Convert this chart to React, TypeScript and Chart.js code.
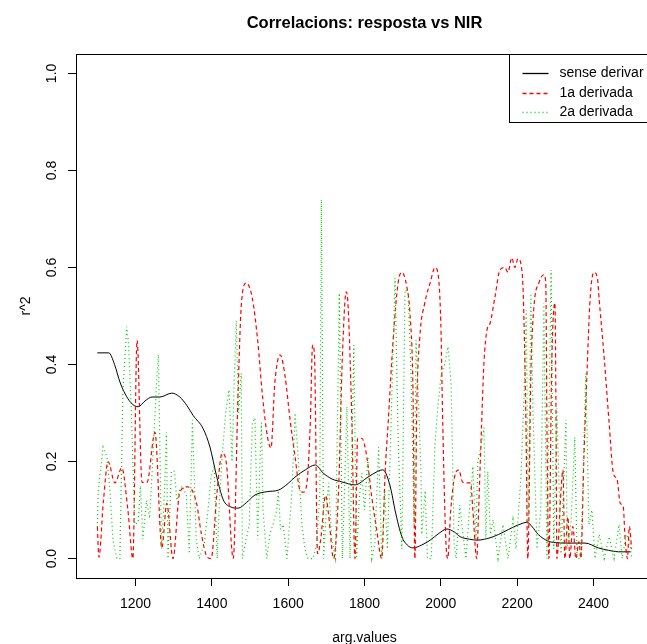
import React, { useEffect, useRef } from 'react';
import { Chart, registerables } from 'chart.js';

Chart.register(...registerables);

const TITLE = 'Correlacions: resposta vs NIR';
const X_LABEL = 'arg.values';
const Y_LABEL = 'r^2';
const SERIES_NAMES = ['sense derivar', '1a derivada', '2a derivada'];
const SERIES_COLORS = ['#000000', '#FF0000', '#00CD00'];
const SERIES_DASH = [[], [4, 3], [1, 3]];
const X_TICKS = [1200, 1400, 1600, 1800, 2000, 2200, 2400];
const Y_TICKS = [0, 0.2, 0.4, 0.6, 0.8, 1.0];
const Y_TICK_LABELS = ['0.0', '0.2', '0.4', '0.6', '0.8', '1.0'];

// sense derivar
const blackWl = [1100,1130,1145,1160,1186,1207,1225,1243,1264,1295,1316,1335,1351,1377,1395,1413,1430,1448,1469,1490,1513,1545,1574,1600,1618,1645,1671,1692,1715,1741,1775,1809,1835,1848,1858,1870,1880,1898,1912,1927,1950,1972,1995,2016,2035,2051,2075,2095,2115,2137,2165,2190,2215,2226,2240,2255,2281,2300,2326,2378,2413,2440,2465,2497];
const blackR2 = [0.424,0.424,0.40,0.362,0.323,0.313,0.325,0.333,0.333,0.341,0.333,0.315,0.295,0.268,0.23,0.168,0.121,0.107,0.104,0.115,0.131,0.138,0.141,0.155,0.168,0.183,0.193,0.176,0.164,0.158,0.152,0.168,0.18,0.183,0.172,0.14,0.1,0.045,0.028,0.022,0.028,0.038,0.052,0.061,0.055,0.045,0.04,0.038,0.04,0.045,0.055,0.065,0.073,0.075,0.065,0.05,0.036,0.033,0.032,0.032,0.022,0.017,0.014,0.014];

// 1a derivada
const redWl = [1100,1104,1116,1128,1146,1164,1180,1193,1204,1217,1230,1251,1269,1282,1298,1316,1337,1360,1372,1388,1398,1414,1427,1438,1456,1469,1477,1490,1506,1520,1533,1546,1555,1565,1579,1592,1605,1618,1631,1640,1650,1658,1664,1669,1677,1685,1698,1706,1719,1732,1742,1752,1757,1767,1775,1782,1793,1806,1819,1832,1845,1854,1862,1875,1888,1898,1911,1919,1927,1932,1937,1945,1958,1972,1985,1992,2000,2005,2013,2018,2026,2036,2047,2057,2068,2078,2084,2094,2099,2107,2113,2121,2129,2142,2155,2168,2176,2186,2194,2202,2213,2217,2223,2228,2236,2244,2257,2270,2275,2278,2283,2291,2299,2302,2304,2315,2320,2325,2333,2338,2346,2354,2362,2367,2375,2383,2391,2401,2410,2415,2428,2441,2452,2462,2470,2478,2483,2489,2494,2500];
const redR2 = [0.065,0.003,0.12,0.2,0.156,0.187,0.1,0.0,0.45,0.157,0.157,0.26,0.022,0.114,0.0,0.137,0.148,0.114,0.053,0.003,0.0,0.141,0.217,0.197,0.0,0.35,0.52,0.568,0.537,0.45,0.333,0.25,0.228,0.362,0.42,0.375,0.286,0.21,0.141,0.137,0.162,0.28,0.44,0.418,0.01,0.038,0.13,0.09,0.0,0.141,0.415,0.55,0.52,0.28,0.0,0.248,0.248,0.21,0.127,0.059,0.0,0.176,0.28,0.45,0.568,0.59,0.56,0.506,0.348,0.0,0.313,0.457,0.527,0.568,0.6,0.59,0.485,0.28,0.04,0.0,0.1,0.168,0.183,0.158,0.156,0.156,0.1,0.0,0.1,0.28,0.403,0.471,0.485,0.54,0.595,0.6,0.59,0.62,0.6,0.618,0.59,0.519,0.28,0.0,0.382,0.519,0.568,0.585,0.568,0.28,0.0,0.415,0.527,0.28,0.0,0.141,0.183,0.0,0.086,0.0,0.066,0.0,0.035,0.0,0.21,0.382,0.533,0.59,0.58,0.533,0.415,0.28,0.176,0.163,0.114,0.107,0.04,0.0,0.066,0.02];

// 2a derivada
const greenWl = [1100,1102,1115,1125,1133,1141,1151,1159,1167,1177,1182,1190,1198,1207,1213,1219,1229,1237,1245,1255,1260,1268,1276,1281,1285,1294,1302,1308,1315,1323,1333,1341,1349,1359,1367,1380,1390,1398,1406,1414,1420,1427,1436,1445,1453,1458,1464,1470,1477,1480,1490,1498,1506,1513,1520,1526,1530,1534,1544,1552,1560,1570,1574,1580,1587,1597,1610,1618,1626,1636,1644,1652,1665,1675,1683,1687,1693,1700,1706,1714,1724,1734,1742,1748,1754,1762,1772,1779,1786,1793,1800,1809,1819,1827,1837,1845,1853,1860,1867,1874,1880,1888,1898,1906,1914,1922,1930,1935,1940,1948,1950,1959,1965,1975,1985,1993,2001,2011,2019,2027,2035,2040,2050,2058,2066,2075,2084,2092,2097,2105,2113,2118,2123,2130,2137,2150,2163,2176,2189,2197,2210,2218,2224,2229,2236,2241,2252,2262,2270,2278,2289,2296,2304,2315,2328,2331,2341,2351,2357,2367,2380,2388,2396,2404,2415,2428,2441,2454,2467,2475,2486,2494,2500];
const greenR2 = [0.065,0.137,0.23,0.21,0.14,0.037,0.0,0.0,0.348,0.478,0.44,0.28,0.07,0.075,0.15,0.04,0.12,0.083,0.2,0.362,0.42,0.02,0.14,0.26,0.0,0.18,0.18,0.12,0.14,0.15,0.13,0.01,0.286,0.04,0.0,0.03,0.1,0.17,0.19,0.0,0.12,0.21,0.3,0.348,0.2,0.35,0.49,0.3,0.382,0.0,0.04,0.07,0.28,0.29,0.04,0.2,0.28,0.1,0.0,0.05,0.07,0.1,0.14,0.06,0.07,0.0,0.14,0.3,0.21,0.07,0.02,0.0,0.0,0.03,0.14,0.74,0.0,0.1,0.156,0.04,0.0,0.547,0.0,0.15,0.313,0.0,0.44,0.0,0.12,0.176,0.1,0.21,0.0,0.03,0.23,0.0,0.14,0.02,0.21,0.4,0.578,0.25,0.02,0.554,0.55,0.38,0.07,0.45,0.36,0.176,0.05,0.14,0.0,0.0,0.24,0.32,0.38,0.403,0.437,0.36,0.03,0.0,0.11,0.05,0.0,0.1,0.19,0.04,0.2,0.23,0.27,0.04,0.18,0.05,0.08,0.0,0.07,0.0,0.08,0.02,0.17,0.333,0.512,0.07,0.547,0.32,0.02,0.1,0.527,0.0,0.595,0.02,0.31,0.01,0.286,0.02,0.07,0.25,0.0,0.0,0.382,0.07,0.1,0.0,0.05,0.0,0.045,0.0,0.07,0.0,0.05,0.04,0.0];

const FONT = '"Liberation Sans", Arial, Helvetica, sans-serif';

function pairs(xs: number[], ys: number[]) {
  const n = Math.min(xs.length, ys.length);
  const out: { x: number; y: number }[] = [];
  for (let i = 0; i < n; i++) out.push({ x: xs[i], y: ys[i] });
  return out;
}

const decorPlugin = {
  id: 'rDecor',
  beforeDraw(chart: any) {
    const { ctx } = chart;
    ctx.save();
    ctx.fillStyle = '#ffffff';
    ctx.fillRect(0, 0, chart.width, chart.height);
    ctx.restore();
  },
  afterDraw(chart: any) {
    const { ctx, chartArea: a, scales } = chart;
    ctx.save();
    ctx.setLineDash([]);
    ctx.strokeStyle = '#000';
    ctx.lineWidth = 1;
    ctx.strokeRect(Math.round(a.left) + 0.5, Math.round(a.top) + 0.5, Math.round(a.right - a.left), Math.round(a.bottom - a.top));

    ctx.fillStyle = '#000';
    ctx.textAlign = 'center';
    ctx.textBaseline = 'alphabetic';
    const cx = (a.left + a.right) / 2;
    ctx.font = `bold 16.5px ${FONT}`;
    ctx.fillText(TITLE, cx, 28);
    ctx.font = `14px ${FONT}`;
    ctx.fillText(X_LABEL, cx, 642);

    Y_TICKS.forEach((v, i) => {
      const py = scales.y.getPixelForValue(v);
      ctx.save();
      ctx.translate(56, py);
      ctx.rotate(-Math.PI / 2);
      ctx.fillText(Y_TICK_LABELS[i], 0, 0);
      ctx.restore();
    });
    ctx.save();
    ctx.translate(30, (a.top + a.bottom) / 2 - 10);
    ctx.rotate(-Math.PI / 2);
    ctx.fillText(Y_LABEL, 0, 0);
    ctx.restore();

    // legend (topright)
    const bx0 = Math.round(a.right - 144) + 0.5;
    const by0 = Math.round(a.top) + 0.5;
    const bw = 144;
    const bh = 68;
    ctx.fillStyle = '#fff';
    ctx.fillRect(bx0, by0, bw, bh);
    ctx.strokeStyle = '#000';
    ctx.lineWidth = 1;
    ctx.strokeRect(bx0, by0, bw, bh);
    chart.data.datasets.forEach((ds: any, i: number) => {
      const ly = Math.round(a.top + 19 + i * 19.5);
      ctx.strokeStyle = SERIES_COLORS[i];
      ctx.lineWidth = 1.3;
      ctx.setLineDash(SERIES_DASH[i]);
      ctx.beginPath();
      ctx.moveTo(bx0 + 13, ly + 0.5);
      ctx.lineTo(bx0 + 39, ly + 0.5);
      ctx.stroke();
      ctx.setLineDash([]);
      ctx.fillStyle = '#000';
      ctx.textAlign = 'left';
      ctx.textBaseline = 'middle';
      ctx.font = `14px ${FONT}`;
      ctx.fillText(ds.label, bx0 + 50, ly);
    });
    ctx.restore();
  },
};

export default function App() {
  const ref = useRef<HTMLCanvasElement>(null);
  useEffect(() => {
    document.body.style.margin = '0';
    const canvas = ref.current;
    if (!canvas) return;
    const seriesData = [pairs(blackWl, blackR2), pairs(redWl, redR2), pairs(greenWl, greenR2)];
    const chart = new Chart(canvas, {
      type: 'line',
      data: {
        datasets: seriesData.map((d, i) => ({
          label: SERIES_NAMES[i],
          data: d,
          borderColor: SERIES_COLORS[i],
          borderWidth: i === 0 ? 1 : 1.2,
          borderDash: SERIES_DASH[i],
          pointRadius: 0,
          fill: false,
          order: 3 - i,
          tension: i === 2 ? 0 : 0.4,
          cubicInterpolationMode: i === 2 ? 'default' : 'monotone',
        })) as any,
      },
      options: {
        animation: false,
        responsive: false,
        devicePixelRatio: 1,
        layout: { padding: { top: 54, left: 0, right: 7, bottom: 0 } },
        plugins: {
          legend: { display: false },
          title: { display: false },
          tooltip: { enabled: false },
        },
        events: [],
        scales: {
          x: {
            type: 'linear',
            min: 1044,
            max: 2556,
            afterBuildTicks: (s: any) => {
              s.ticks = X_TICKS.map((v) => ({ value: v }));
            },
            afterFit: (s: any) => {
              s.height = 66;
            },
            grid: { drawOnChartArea: false, drawTicks: true, tickLength: 8, color: '#000', tickColor: '#000', lineWidth: 1 },
            border: { display: false },
            ticks: {
              color: '#000',
              font: { family: FONT, size: 14 },
              padding: 10,
              maxRotation: 0,
              minRotation: 0,
              autoSkip: false,
              callback: (v: any) => String(v),
            },
          },
          y: {
            type: 'linear',
            min: -0.04,
            max: 1.04,
            afterBuildTicks: (s: any) => {
              s.ticks = Y_TICKS.map((v) => ({ value: v }));
            },
            afterFit: (s: any) => {
              s.width = 76;
            },
            grid: { drawOnChartArea: false, drawTicks: true, tickLength: 8, color: '#000', tickColor: '#000', lineWidth: 1 },
            border: { display: false },
            ticks: { display: false },
          },
        },
      } as any,
      plugins: [decorPlugin],
    });
    return () => chart.destroy();
  }, []);
  return (
    <div style={{ position: 'fixed', left: 0, top: 0, width: 647, height: 644, overflow: 'hidden', background: '#fff' }}>
      <canvas ref={ref} width={660} height={644} style={{ display: 'block', width: 660, height: 644 }} />
    </div>
  );
}
